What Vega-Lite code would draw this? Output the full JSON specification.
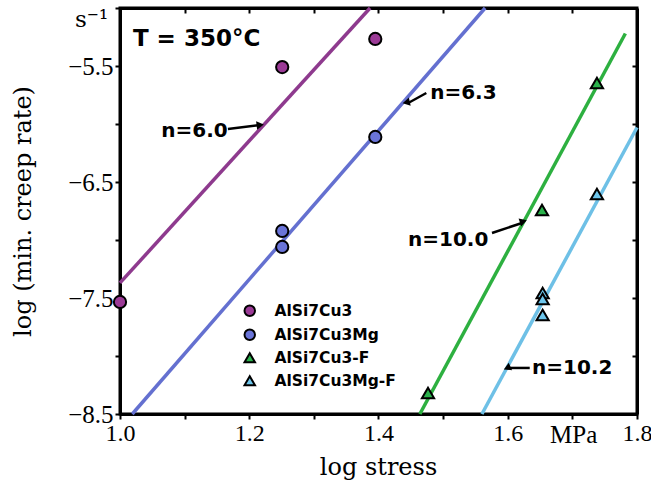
{
  "$schema": "https://vega.github.io/schema/vega-lite/v6.json",
  "width": 517,
  "height": 406,
  "autosize": {"type": "none"},
  "padding": {"left": 120, "top": 8, "right": 14, "bottom": 75},
  "background": "white",
  "config": {
    "view": {"stroke": "black", "strokeWidth": 3},
    "axis": {"domainColor": "black", "domainWidth": 3, "tickColor": "black", "tickWidth": 2, "grid": false, "labelColor": "black", "titleColor": "black"}
  },
  "datasets": {
    "lines": [
      {"fit": "n=6.0", "x": 1.0, "y": -7.37},
      {"fit": "n=6.0", "x": 1.387, "y": -5.0},
      {"fit": "n=6.3", "x": 1.019, "y": -8.5},
      {"fit": "n=6.3", "x": 1.565, "y": -5.0},
      {"fit": "n=10.0", "x": 1.464, "y": -8.5},
      {"fit": "n=10.0", "x": 1.782, "y": -5.22},
      {"fit": "n=10.2", "x": 1.56, "y": -8.5},
      {"fit": "n=10.2", "x": 1.8, "y": -6.03}
    ],
    "points": [
      {"series": "AlSi7Cu3", "x": 1.0, "y": -7.534},
      {"series": "AlSi7Cu3", "x": 1.251, "y": -5.509},
      {"series": "AlSi7Cu3", "x": 1.395, "y": -5.267},
      {"series": "AlSi7Cu3Mg", "x": 1.395, "y": -6.112},
      {"series": "AlSi7Cu3Mg", "x": 1.251, "y": -6.922},
      {"series": "AlSi7Cu3Mg", "x": 1.251, "y": -7.06},
      {"series": "AlSi7Cu3-F", "x": 1.738, "y": -5.647},
      {"series": "AlSi7Cu3-F", "x": 1.653, "y": -6.741},
      {"series": "AlSi7Cu3-F", "x": 1.4766, "y": -8.319},
      {"series": "AlSi7Cu3Mg-F", "x": 1.738, "y": -6.603},
      {"series": "AlSi7Cu3Mg-F", "x": 1.654, "y": -7.457},
      {"series": "AlSi7Cu3Mg-F", "x": 1.654, "y": -7.509},
      {"series": "AlSi7Cu3Mg-F", "x": 1.654, "y": -7.647}
    ],
    "arrows": [
      {"label": "n=6.0", "x": 1.167, "y": -6.043, "x2": 1.217, "y2": -6.009},
      {"label": "n=6.3", "x": 1.474, "y": -5.733, "x2": 1.446, "y2": -5.819},
      {"label": "n=10.0", "x": 1.5756, "y": -6.94, "x2": 1.622, "y2": -6.853},
      {"label": "n=10.2", "x": 1.634, "y": -8.103, "x2": 1.599, "y2": -8.103}
    ],
    "notes": [
      {"text": "T = 350°C", "kind": "heading", "x": 1.02, "y": -5.267},
      {"text": "n=6.0", "kind": "slope", "x": 1.064, "y": -6.06},
      {"text": "n=6.3", "kind": "slope", "x": 1.48, "y": -5.733},
      {"text": "n=10.0", "kind": "slope", "x": 1.4457, "y": -7.0},
      {"text": "n=10.2", "kind": "slope", "x": 1.6375, "y": -8.103},
      {"text": "s⁻¹", "kind": "unitsup", "x": 0.9304, "y": -5.164},
      {"text": "MPa", "kind": "unit", "x": 1.6654, "y": -8.75}
    ]
  },
  "layer": [
    {
      "data": {"name": "lines"},
      "mark": {"type": "line", "strokeWidth": 3.5},
      "encoding": {
        "x": {"field": "x", "type": "quantitative", "scale": {"domain": [1.0, 1.8], "nice": false, "zero": false},
          "axis": {"orient": "bottom", "values": [1.0, 1.1, 1.2, 1.3, 1.4, 1.5, 1.6, 1.7, 1.8], "labelExpr": "abs(round(datum.value*10)) % 2 == 0 ? format(datum.value, '.1f') : ''", "labelFont": "Liberation Serif", "labelFontSize": 24, "labelPadding": 2, "tickSize": 5, "labelFlush": false, "labelOverlap": false,
            "title": "log stress", "titleFont": "DejaVu Serif", "titleFontSize": 24, "titleFontWeight": "normal", "titleX": 258, "titleY": 53, "titleBaseline": "middle", "titleAnchor": "middle"}},
        "y": {"field": "y", "type": "quantitative", "scale": {"domain": [-8.5, -5.0], "nice": false, "zero": false},
          "axis": {"orient": "left", "values": [-8.5, -8.0, -7.5, -7.0, -6.5, -6.0, -5.5, -5.0], "labelExpr": "abs(round(datum.value*2)) % 2 == 1 ? format(datum.value, '.1f') : ''", "labelFont": "Liberation Serif", "labelFontSize": 25, "labelPadding": 2, "tickSize": 5, "labelFlush": false, "labelOverlap": false,
            "title": "log (min. creep rate)", "titleFont": "DejaVu Serif", "titleFontSize": 24, "titleFontWeight": "normal", "titleX": -97, "titleY": 203, "titleAngle": -90, "titleBaseline": "middle", "titleAlign": "center"}},
        "detail": {"field": "fit"},
        "stroke": {"field": "fit", "type": "nominal", "legend": null,
          "scale": {"domain": ["n=6.0", "n=6.3", "n=10.0", "n=10.2"], "range": ["#8E3A8E", "#6470D0", "#2DB040", "#6EC0E6"]}}
      }
    },
    {
      "data": {"name": "points"},
      "mark": {"type": "point", "filled": true, "stroke": "black", "strokeWidth": 2, "size": 150, "opacity": 1},
      "encoding": {
        "x": {"field": "x", "type": "quantitative", "scale": {"domain": [1.0, 1.8], "nice": false, "zero": false}, "axis": null},
        "y": {"field": "y", "type": "quantitative", "scale": {"domain": [-8.5, -5.0], "nice": false, "zero": false}, "axis": null},
        "fill": {"field": "series", "type": "nominal",
          "scale": {"domain": ["AlSi7Cu3", "AlSi7Cu3Mg", "AlSi7Cu3-F", "AlSi7Cu3Mg-F"], "range": ["#9B3A96", "#6A74D8", "#2BB24C", "#6EC6EC"]},
          "legend": {"title": null, "orient": "none", "legendX": 122, "legendY": 295, "padding": 0, "labelFont": "DejaVu Sans", "labelFontWeight": "bold", "labelFontSize": 15.5, "labelColor": "black", "symbolSize": 110, "symbolStrokeColor": "black", "symbolStrokeWidth": 2, "rowPadding": 5, "labelOffset": 17}},
        "shape": {"field": "series", "type": "nominal",
          "scale": {"domain": ["AlSi7Cu3", "AlSi7Cu3Mg", "AlSi7Cu3-F", "AlSi7Cu3Mg-F"], "range": ["circle", "circle", "triangle-up", "triangle-up"]}}
      }
    },
    {
      "data": {"name": "arrows"},
      "mark": {"type": "rule", "color": "black", "strokeWidth": 2.5},
      "encoding": {
        "x": {"field": "x", "type": "quantitative", "scale": {"domain": [1.0, 1.8], "nice": false, "zero": false}, "axis": null},
        "y": {"field": "y", "type": "quantitative", "scale": {"domain": [-8.5, -5.0], "nice": false, "zero": false}, "axis": null},
        "x2": {"field": "x2"},
        "y2": {"field": "y2"}
      }
    },
    {
      "data": {"name": "arrows"},
      "mark": {"type": "point", "shape": "triangle-up", "filled": true, "color": "black", "size": 70, "opacity": 1},
      "encoding": {
        "x": {"field": "x2", "type": "quantitative", "scale": {"domain": [1.0, 1.8], "nice": false, "zero": false}, "axis": null},
        "y": {"field": "y2", "type": "quantitative", "scale": {"domain": [-8.5, -5.0], "nice": false, "zero": false}, "axis": null},
        "angle": {"field": "label", "type": "nominal", "legend": null,
          "scale": {"domain": ["n=6.0", "n=6.3", "n=10.0", "n=10.2"], "range": [83, 246, 72, 270]}}
      }
    },
    {
      "data": {"name": "notes"},
      "transform": [{"filter": "datum.kind == 'slope'"}],
      "mark": {"type": "text", "align": "left", "baseline": "middle", "font": "DejaVu Sans", "fontWeight": "bold", "fontSize": 20, "color": "black"},
      "encoding": {
        "x": {"field": "x", "type": "quantitative", "scale": {"domain": [1.0, 1.8], "nice": false, "zero": false}, "axis": null},
        "y": {"field": "y", "type": "quantitative", "scale": {"domain": [-8.5, -5.0], "nice": false, "zero": false}, "axis": null},
        "text": {"field": "text"}
      }
    },
    {
      "data": {"name": "notes"},
      "transform": [{"filter": "datum.kind == 'heading'"}],
      "mark": {"type": "text", "align": "left", "baseline": "middle", "font": "DejaVu Sans", "fontWeight": "bold", "fontSize": 23, "color": "black"},
      "encoding": {
        "x": {"field": "x", "type": "quantitative", "scale": {"domain": [1.0, 1.8], "nice": false, "zero": false}, "axis": null},
        "y": {"field": "y", "type": "quantitative", "scale": {"domain": [-8.5, -5.0], "nice": false, "zero": false}, "axis": null},
        "text": {"field": "text"}
      }
    },
    {
      "data": {"name": "notes"},
      "transform": [{"filter": "datum.kind == 'unit'"}],
      "mark": {"type": "text", "align": "left", "baseline": "alphabetic", "font": "Liberation Serif", "fontSize": 25, "color": "black"},
      "encoding": {
        "x": {"field": "x", "type": "quantitative", "scale": {"domain": [1.0, 1.8], "nice": false, "zero": false}, "axis": null},
        "y": {"field": "y", "type": "quantitative", "scale": {"domain": [-8.5, -5.0], "nice": false, "zero": false}, "axis": null},
        "text": {"field": "text"}
      }
    },
    {
      "data": {"name": "notes"},
      "transform": [{"filter": "datum.kind == 'unitsup'"}],
      "mark": {"type": "text", "align": "left", "baseline": "alphabetic", "font": "DejaVu Serif", "fontSize": 23, "color": "black"},
      "encoding": {
        "x": {"field": "x", "type": "quantitative", "scale": {"domain": [1.0, 1.8], "nice": false, "zero": false}, "axis": null},
        "y": {"field": "y", "type": "quantitative", "scale": {"domain": [-8.5, -5.0], "nice": false, "zero": false}, "axis": null},
        "text": {"field": "text"}
      }
    },
    {
      "data": {"name": "lines"},
      "mark": {"type": "point", "opacity": 0},
      "encoding": {
        "x": {"field": "x", "type": "quantitative", "scale": {"domain": [1.0, 1.8], "nice": false, "zero": false},
          "axis": {"orient": "top", "values": [1.1, 1.2, 1.3, 1.4, 1.5, 1.6, 1.7], "labels": false, "title": null, "tickSize": -5}},
        "y": {"field": "y", "type": "quantitative", "scale": {"domain": [-8.5, -5.0], "nice": false, "zero": false},
          "axis": {"orient": "right", "values": [-8.0, -7.5, -7.0, -6.5, -6.0, -5.5], "labels": false, "title": null, "tickSize": -5}}
      }
    }
  ],
  "resolve": {"axis": {"x": "independent", "y": "independent"}}
}
